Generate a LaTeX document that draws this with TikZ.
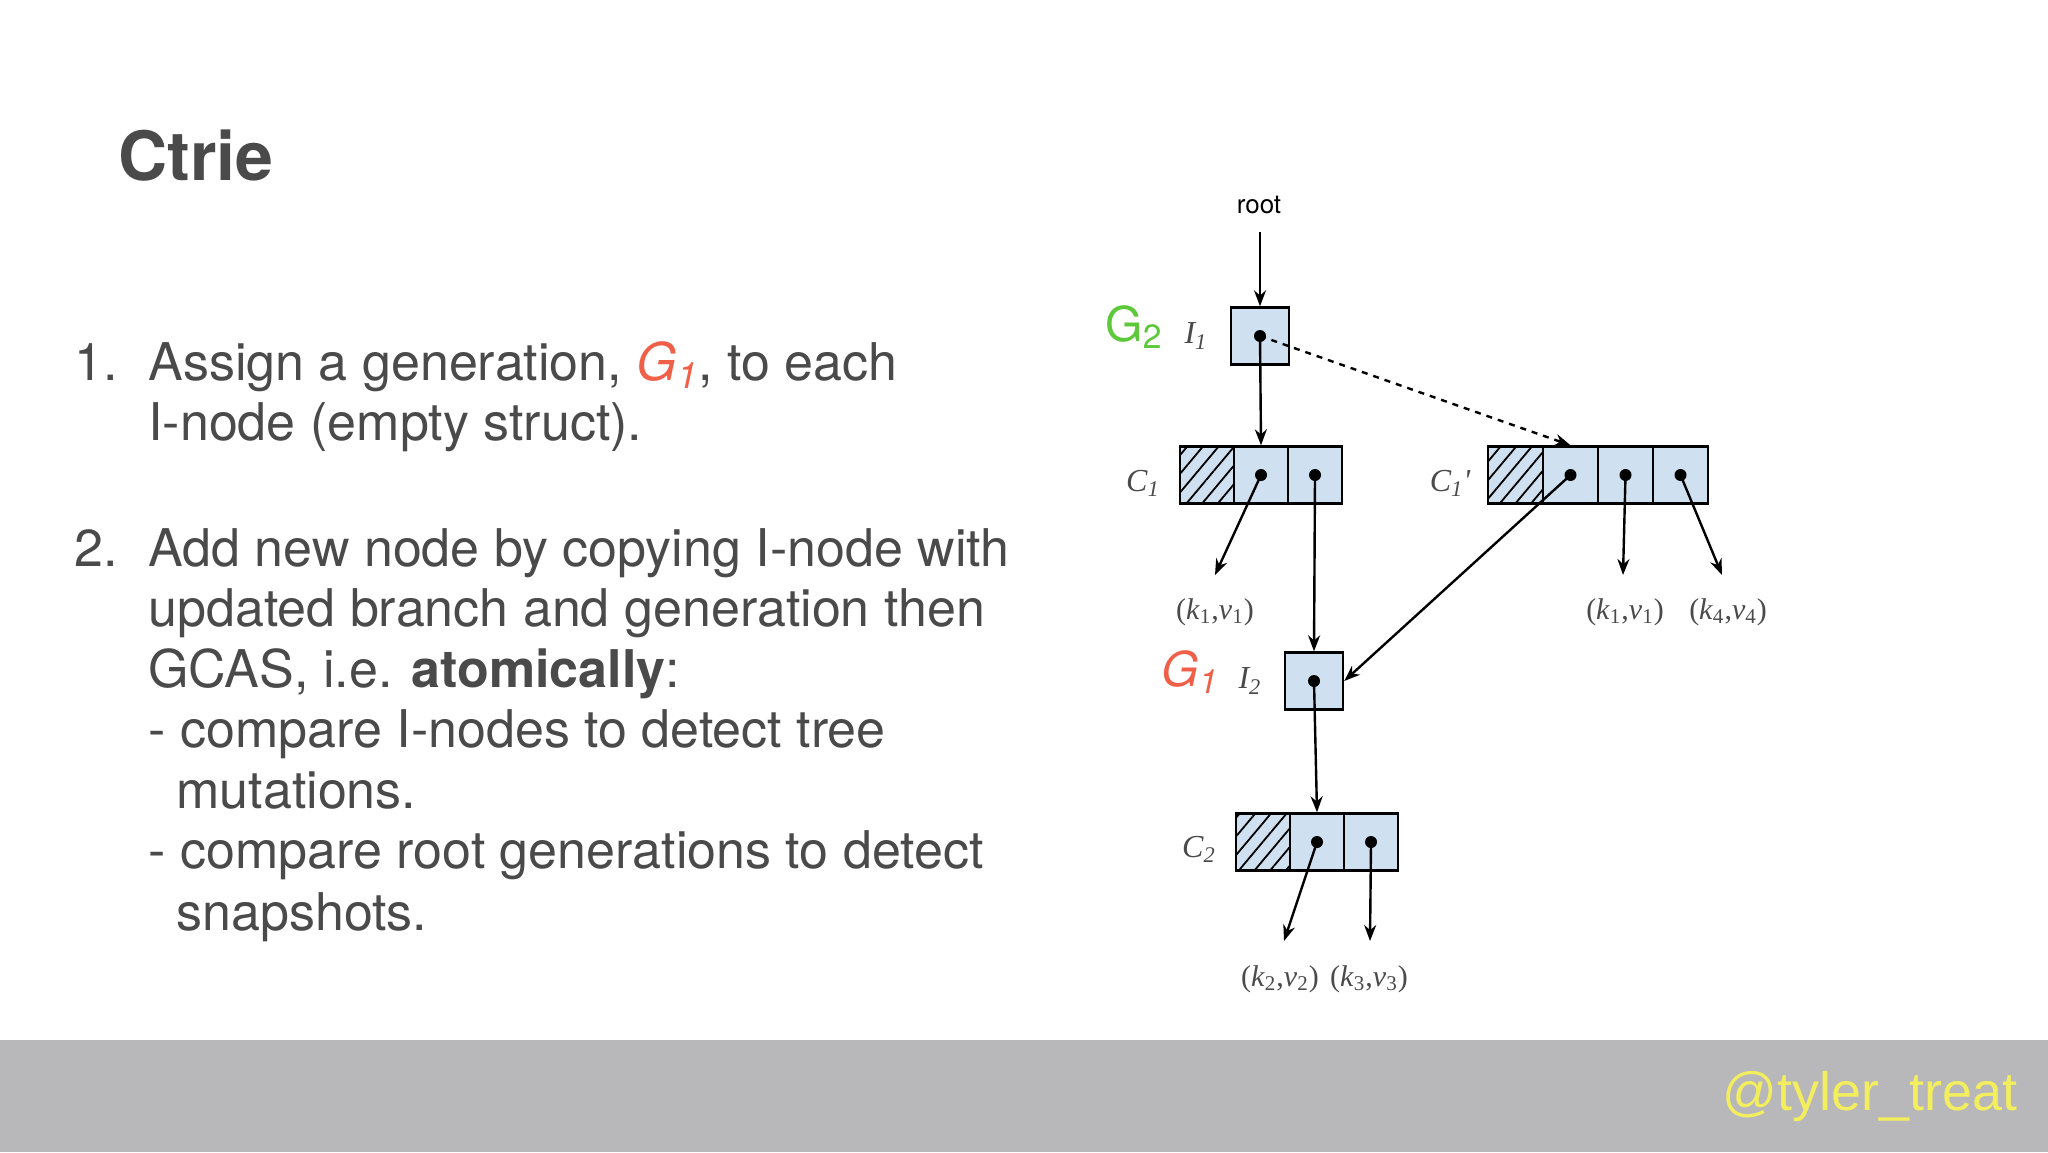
\documentclass[tikz,border=0pt]{standalone}
\usepackage{fontspec}
\setmainfont{TeX Gyre Heros}
\newfontfamily\serifit{Liberation Serif}[ItalicFont=* Italic]
\newfontfamily\footfont{Liberation Sans}
\usetikzlibrary{arrows.meta,patterns.meta}
\definecolor{txtgray}{HTML}{4A4A4A}
\definecolor{cellblue}{HTML}{CFE0F1}
\definecolor{gGreen}{HTML}{5CC83A}
\definecolor{gRed}{HTML}{F06048}
\definecolor{footgray}{HTML}{B8B7BA}
\definecolor{footyellow}{HTML}{F2EE5E}
\tikzset{
  line/.style={line width=1.2pt,-{Stealth[length=8pt,width=6pt]}},
  cell/.style={draw,line width=1.2pt,fill=cellblue,minimum width=27pt,minimum height=28.5pt,inner sep=0pt},
  hatch/.style={cell,postaction={pattern={Lines[angle=50,distance=6pt,line width=0.9pt]}}},
  bcell/.style={cell,minimum width=29pt},
  dotp/.style={circle,fill,inner sep=0pt,minimum size=6pt},
  body/.style={anchor=base west,text=txtgray,font=\fontsize{26}{30}\selectfont,inner sep=0pt},
  lab/.style={text=txtgray,font=\serifit\itshape\fontsize{16}{18}\selectfont,inner sep=0pt},
  kv/.style={text=txtgray,font=\serifit\fontsize{15}{17}\selectfont,inner sep=0pt},
}
\newcommand{\subs}[1]{\textsubscript{#1}}
\begin{document}
\begin{tikzpicture}[x=0.5pt,y=-0.5pt]
\useasboundingbox (0,0) rectangle (2048,1152);
\fill[white] (0,0) rectangle (2048,1152);
\fill[footgray] (0,1040) rectangle (2048,1152);
\node[anchor=base east,text=footyellow,font=\footfont\fontsize{27}{30}\selectfont,inner sep=0pt] (foot) at (2018,1110) {@tyler\_treat};
% title and text
\node[anchor=base west,text=txtgray,font=\bfseries\fontsize{34}{38}\selectfont,inner sep=0pt] (title) at (118,180) {Ctrie};
\node[body] (n1) at (74,380) {1.};
\node[body] (t1) at (148,380) {Assign a generation, {\color{gRed}\itshape G\subs{1}}, to each};
\node[body] (t2) at (148,440) {I-node (empty struct).};
\node[body] (n2) at (74,566) {2.};
\node[body] (t3) at (148,566) {Add new node by copying I-node with};
\node[body] (t4) at (148,626) {updated branch and generation then};
\node[body] (t5) at (148,687) {GCAS, i.e. \textbf{atomically}:};
\node[body] (t6) at (148,747) {- compare I-nodes to detect tree};
\node[body] (t7) at (176,808) {mutations.};
\node[body] (t8) at (148,868) {- compare root generations to detect};
\node[body] (t9) at (176,930) {snapshots.};
% diagram
\node[inner sep=0pt,font=\fontsize{13}{15}\selectfont,text=black] (root) at (1259,205) {root};
\node[bcell] (i1) at (1260,336) {};
\node[text=gGreen,font=\fontsize{24}{28}\selectfont,inner sep=0pt] (g2) at (1134,327) {G\subs{2}};
\node[lab] (i1l) at (1196,336) {I\subs{1}};
\node[hatch] (c1a) at (1207,475) {};
\node[cell] (c1b) at (1261,475) {};
\node[cell] (c1c) at (1315,475) {};
\node[lab] (c1l) at (1143,483) {C\subs{1}};
\node[hatch,minimum width=27.5pt] (d1a) at (1515.5,475) {};
\node[cell,minimum width=27.5pt] (d1b) at (1570.5,475) {};
\node[cell,minimum width=27.5pt] (d1c) at (1625.5,475) {};
\node[cell,minimum width=27.5pt] (d1d) at (1680.5,475) {};
\node[lab] (d1l) at (1450,483) {C\subs{1}'};
\node[bcell] (i2) at (1314,681) {};
\node[text=gRed,font=\itshape\fontsize{24}{28}\selectfont,inner sep=0pt] (g1) at (1190,672) {G\subs{1}};
\node[lab] (i2l) at (1250,681) {I\subs{2}};
\node[hatch] (c2a) at (1263,842) {};
\node[cell] (c2b) at (1317,842) {};
\node[cell] (c2c) at (1371,842) {};
\node[lab] (c2l) at (1199,849) {C\subs{2}};
% dots
\foreach \n in {i1,c1b,c1c,d1b,d1c,d1d,i2,c2b,c2c} \node[dotp] (\n d) at (\n.center) {};
% labels
\node[kv] (kv1) at (1215,612) {(\textit{k}\subs{1},\textit{v}\subs{1})};
\node[kv] (kv1b) at (1625,612) {(\textit{k}\subs{1},\textit{v}\subs{1})};
\node[kv] (kv4) at (1728,612) {(\textit{k}\subs{4},\textit{v}\subs{4})};
\node[kv] (kv2) at (1280,979) {(\textit{k}\subs{2},\textit{v}\subs{2})};
\node[kv] (kv3) at (1369,979) {(\textit{k}\subs{3},\textit{v}\subs{3})};
\coordinate (e1) at (1215,575);
\coordinate (e1b) at (1623,575);
\coordinate (e4) at (1722,575);
\coordinate (e2) at (1284,941);
\coordinate (e3) at (1370,941);
\coordinate (rootbot) at (1260,232);
% connectors
\draw[line] (rootbot) -- (i1.north);
\draw[line] (i1d.center) -- (c1b.north);
\draw[line,dashed] (i1d.center) -- (d1b.north);
\draw[line] (c1bd.center) -- (e1);
\draw[line] (c1cd.center) -- (i2.north);
\draw[line] (d1bd.center) -- (i2.east);
\draw[line] (d1cd.center) -- (e1b);
\draw[line] (d1dd.center) -- (e4);
\draw[line] (i2d.center) -- (c2b.north);
\draw[line] (c2bd.center) -- (e2);
\draw[line] (c2cd.center) -- (e3);
\end{tikzpicture}
\end{document}
